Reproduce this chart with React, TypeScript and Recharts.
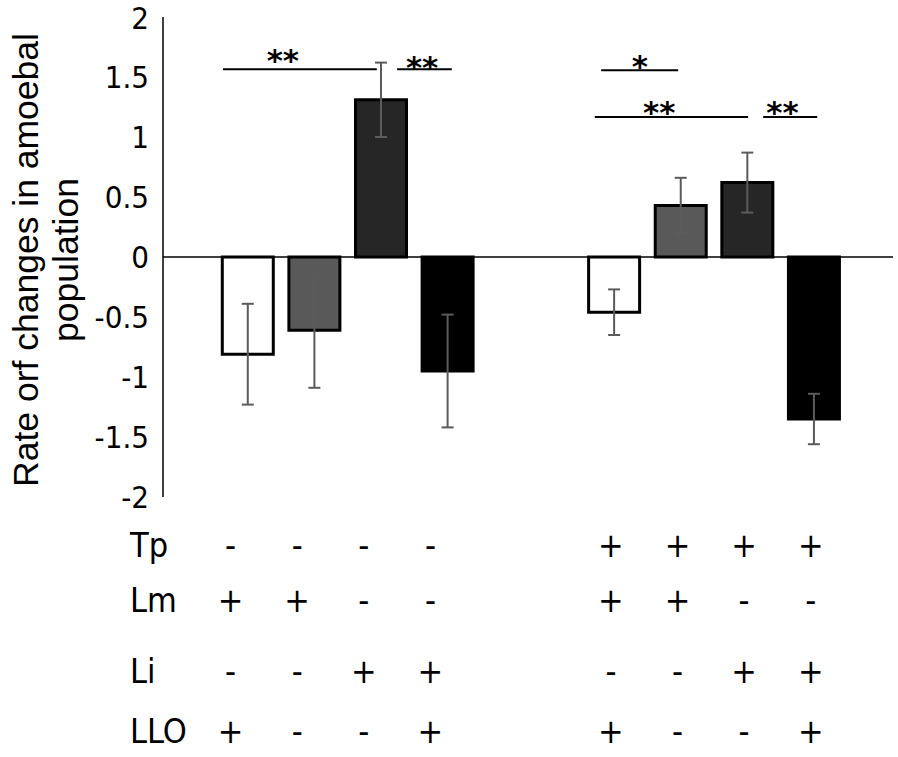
import { BarChart, Bar, XAxis, YAxis, ReferenceLine, ReferenceDot, ErrorBar, Cell } from 'recharts';

// treatment matrix (one entry per bar)
const factors = ['Tp', 'Lm', 'Li', 'LLO'];
const tpSigns = ['-', '-', '-', '-', '+', '+', '+', '+'];
const lmSigns = ['+', '+', '-', '-', '+', '+', '-', '-'];
const liSigns = ['-', '-', '+', '+', '-', '-', '+', '+'];
const lloSigns = ['+', '-', '-', '+', '+', '-', '-', '+'];

const rates = [-0.81, -0.61, 1.31, -0.95, -0.46, 0.43, 0.62, -1.35];
const errs = [0.42, 0.48, 0.31, 0.47, 0.19, 0.23, 0.25, 0.21];
const yTicks = [-2, -1.5, -1, -0.5, 0, 0.5, 1, 1.5, 2];

// significance brackets, in data units
const brackets = [
  { from: 0.63, to: 2.94, at: 1.564, mark: '**', markX: 1.53, markY: 1.696 },
  { from: 3.245, to: 4.066, at: 1.564, mark: '**', markX: 3.62, markY: 1.64 },
  { from: 6.308, to: 7.464, at: 1.556, mark: '*', markX: 6.89, markY: 1.65 },
  { from: 6.213, to: 8.515, at: 1.167, mark: '**', markX: 7.18, markY: 1.27 },
  { from: 8.741, to: 9.552, at: 1.167, mark: '**', markX: 9.03, markY: 1.27 },
];

const FILLS = ['#ffffff', '#595959', '#262626', '#000000'];
const NARROW = "'Liberation Sans Narrow', 'DejaVu Sans Condensed', 'Arial Narrow', sans-serif";
const SANS = "'Liberation Sans', Arial, sans-serif";

const signRows = [tpSigns, lmSigns, liSigns, lloSigns];
const rowBase = [557, 612, 683, 743];

// two groups of four, with a gap in between
const positions = rates.map((_, i) => (i < 4 ? i + 1 : i + 2.5));
const data = rates.map((v, i) => ({ pos: positions[i], rate: v, err: errs[i] }));

function SignTick(props: any) {
  const { x, payload } = props;
  const i = positions.indexOf(payload.value);
  if (i < 0) return null;
  const shift = i < 4 ? -17 : -3;
  return (
    <g>
      {signRows.map((row, k) => (
        <text key={k} x={x + shift} y={rowBase[k]} textAnchor="middle" fontFamily={NARROW} fontSize={34} fill="#000">
          {row[i]}
        </text>
      ))}
      {i === 0 &&
        factors.map((f, k) => (
          <text key={f} x={130} y={rowBase[k]} fontFamily={NARROW} fontSize={34} fill="#000">
            {f}
          </text>
        ))}
    </g>
  );
}

function YTitle() {
  return (
    <g fontFamily={SANS} fontSize={35.5} fill="#000">
      <text transform="translate(38, 260) rotate(-90)" textAnchor="middle">Rate orf changes in amoebal</text>
      <text transform="translate(78, 260) rotate(-90)" textAnchor="middle">population</text>
    </g>
  );
}

function starLabel(mark: string) {
  return (p: any) => {
    const vb = p.viewBox || {};
    const cx = vb.x + (vb.width || 0) / 2;
    const cy = vb.y + (vb.height || 0) / 2;
    return (
      <text x={cx} y={cy} dy={18} textAnchor="middle" fontFamily="'DejaVu Sans', sans-serif" fontWeight="bold" fontSize={31} fill="#000">
        {mark}
      </text>
    );
  };
}

export default function App() {
  return (
    <div style={{ position: 'absolute', left: 0, top: 0, width: 898, height: 757, background: '#fff' }}>
      <BarChart width={898} height={757} data={data} margin={{ top: 17, right: 5, bottom: 0, left: 0 }}>
        <XAxis
          dataKey="pos"
          type="number"
          domain={[-0.27, 10.69]}
          ticks={positions}
          interval={0}
          axisLine={false}
          tickLine={false}
          height={260}
          tick={<SignTick />}
        />
        <YAxis
          domain={[-2, 2]}
          ticks={yTicks}
          width={163}
          tickSize={0}
          tickMargin={14}
          tickLine={false}
          axisLine={{ stroke: '#000', strokeWidth: 1.5 }}
          tick={{ fill: '#000', fontSize: 31, fontFamily: NARROW }}
          label={<YTitle />}
        />
        <Bar dataKey="rate" barSize={51} stroke="#000" strokeWidth={3} isAnimationActive={false}>
          {data.map((_, i) => (
            <Cell key={i} fill={FILLS[i % 4]} />
          ))}
          <ErrorBar dataKey="err" direction="y" width={6} stroke="#5b5b5b" strokeWidth={2} isAnimationActive={false} />
        </Bar>
        <ReferenceLine y={0} stroke="#000" strokeWidth={1.5} />
        {brackets.map((b, i) => (
          <ReferenceLine
            key={'l' + i}
            segment={[{ x: b.from, y: b.at }, { x: b.to, y: b.at }]}
            stroke="#000"
            strokeWidth={2}
          />
        ))}
        {brackets.map((b, i) => (
          <ReferenceDot key={'m' + i} x={b.markX} y={b.markY} r={0.5} fill="none" stroke="none" label={starLabel(b.mark)} />
        ))}
      </BarChart>
    </div>
  );
}
